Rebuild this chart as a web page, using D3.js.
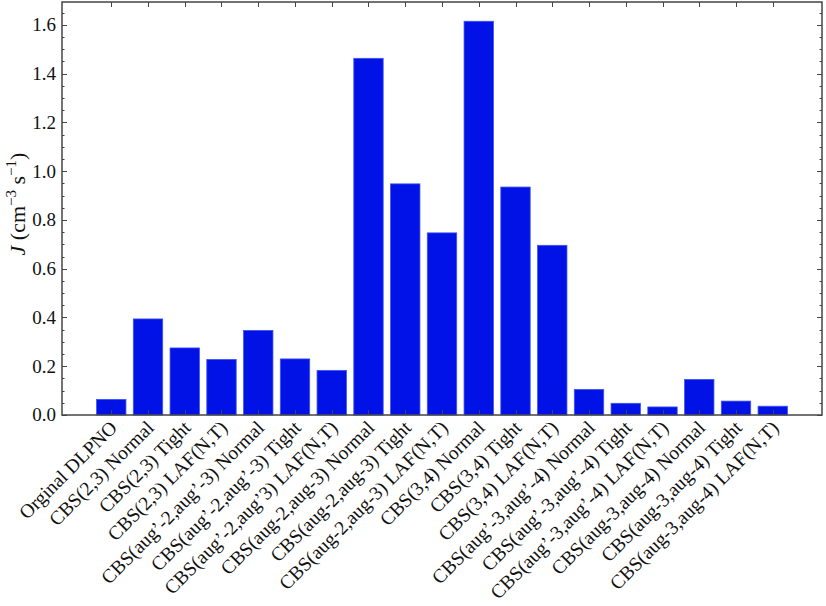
<!DOCTYPE html>
<html>
<head>
<meta charset="utf-8">
<script src="https://cdn.jsdelivr.net/npm/d3@7"></script>
<style>
  body { margin: 0; background: #fff; }
  text { font-family: "Liberation Serif", "DejaVu Serif", serif; fill: #111; }
</style>
</head>
<body>
<div id="body"></div>
<script>
// chart data
var categories = [
  "Orginal DLPNO",
  "CBS(2,3) Normal", "CBS(2,3) Tight", "CBS(2,3) LAF(N,T)",
  "CBS(aug\u2019-2,aug\u2019-3) Normal", "CBS(aug\u2019-2,aug\u2019-3) Tight", "CBS(aug\u2019-2,aug\u20193) LAF(N,T)",
  "CBS(aug-2,aug-3) Normal", "CBS(aug-2,aug-3) Tight", "CBS(aug-2,aug-3) LAF(N,T)",
  "CBS(3,4) Normal", "CBS(3,4) Tight", "CBS(3,4) LAF(N,T)",
  "CBS(aug\u2019-3,aug\u2019-4) Normal", "CBS(aug\u2019-3,aug\u2019-4) Tight", "CBS(aug\u2019-3,aug\u2019-4) LAF(N,T)",
  "CBS(aug-3,aug-4) Normal", "CBS(aug-3,aug-4) Tight", "CBS(aug-3,aug-4) LAF(N,T)"
];
var values = [
  0.064,
  0.394, 0.275, 0.228,
  0.347, 0.230, 0.183,
  1.463, 0.948, 0.747,
  1.615, 0.935, 0.696,
  0.105, 0.048, 0.033,
  0.146, 0.057, 0.036
];
var yMajorTicks = [0, 0.2, 0.4, 0.6, 0.8, 1.0, 1.2, 1.4, 1.6];
var yMinorTicks = d3.range(0, 1.70, 0.05);

function drawChart () {
  var W = 826, H = 606;
  var mLeft = 62, mRight = 822, mTop = 2, mBottom = 415;

  var svg = d3.select('#body').append('svg')
      .attr('width', W)
      .attr('height', H);

  var x = d3.scaleBand()
      .domain(categories)
      .range([mLeft, mRight])
      .paddingInner(0.2)
      .paddingOuter(0.94);

  var y = d3.scaleLinear()
      .domain([0, 1.694])
      .range([mBottom, mTop]);

  // bars
  svg.append('g').selectAll('rect')
    .data(values)
    .enter().append('rect')
      .attr('x', function (d, i) { return x(categories[i]); })
      .attr('y', function (d) { return y(d); })
      .attr('width', x.bandwidth())
      .attr('height', function (d) { return y(0) - y(d); })
      .attr('fill', '#0012e6')
      .attr('stroke', '#3d55f2')
      .attr('stroke-width', 0.8);

  var axisColor = '#444';

  // ticks, all pointing inwards
  var ticks = svg.append('g').attr('stroke', axisColor).attr('stroke-width', 1);
  categories.forEach(function (c) {
    var cx = Math.round(x(c) + x.bandwidth() / 2) + 0.5;
    ticks.append('line').attr('x1', cx).attr('x2', cx).attr('y1', mBottom).attr('y2', mBottom - 5);
    ticks.append('line').attr('x1', cx).attr('x2', cx).attr('y1', mTop).attr('y2', mTop + 5);
  });
  yMajorTicks.forEach(function (v) {
    var cy = Math.round(y(v)) + 0.5;
    ticks.append('line').attr('x1', mLeft).attr('x2', mLeft + 5).attr('y1', cy).attr('y2', cy);
    ticks.append('line').attr('x1', mRight).attr('x2', mRight - 5).attr('y1', cy).attr('y2', cy);
  });
  yMinorTicks.forEach(function (v) {
    var cy = Math.round(y(v)) + 0.5;
    ticks.append('line').attr('x1', mLeft).attr('x2', mLeft + 2.5).attr('y1', cy).attr('y2', cy);
    ticks.append('line').attr('x1', mRight).attr('x2', mRight - 2.5).attr('y1', cy).attr('y2', cy);
  });

  // frame
  svg.append('rect')
      .attr('x', mLeft).attr('y', mTop)
      .attr('width', mRight - mLeft).attr('height', mBottom - mTop)
      .attr('fill', 'none')
      .attr('stroke', axisColor)
      .attr('stroke-width', 1.5);

  // y tick labels
  svg.append('g').selectAll('text')
    .data(yMajorTicks)
    .enter().append('text')
      .attr('x', mLeft - 6)
      .attr('y', function (d) { return y(d); })
      .attr('dy', '0.34em')
      .attr('text-anchor', 'end')
      .attr('font-size', 19)
      .text(function (d) { return d.toFixed(1); });

  // x tick labels, rotated 45 degrees
  svg.append('g').selectAll('text')
    .data(categories)
    .enter().append('text')
      .attr('transform', function (c) {
        var cx = x(c) + x.bandwidth() / 2 + 7;
        return 'translate(' + cx + ',' + (mBottom + 14) + ') rotate(-45)';
      })
      .attr('text-anchor', 'end')
      .attr('font-size', 19.5)
      .text(function (c) { return c; });

  // y axis label
  var yl = svg.append('text')
      .attr('transform', 'translate(25,204) rotate(-90)')
      .attr('text-anchor', 'middle')
      .attr('font-size', 22);
  yl.append('tspan').attr('font-style', 'italic').text('J');
  yl.append('tspan').text(' (cm');
  yl.append('tspan').attr('font-size', 15).attr('dy', -9).text('\u22123');
  yl.append('tspan').attr('dy', 9).text(' s');
  yl.append('tspan').attr('font-size', 15).attr('dy', -9).text('\u22121');
  yl.append('tspan').attr('dy', 9).text(')');
}

drawChart();
</script>
</body>
</html>
